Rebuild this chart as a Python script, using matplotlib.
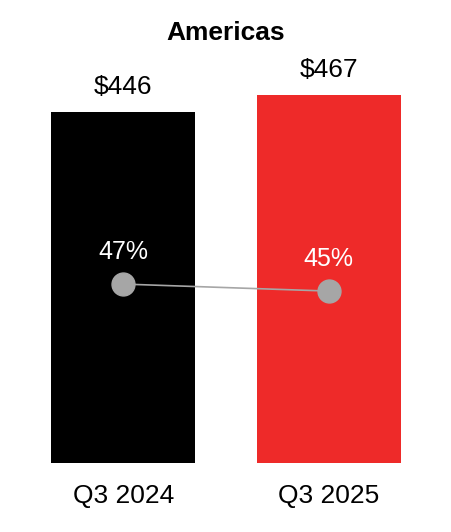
import matplotlib
matplotlib.use("Agg")
import matplotlib.pyplot as plt

categories = ["Q3 2024", "Q3 2025"]
revenue = [446, 467]
margin = [47, 45]
value_labels = ["$446", "$467"]
margin_labels = ["47%", "45%"]

plt.rcParams['font.family'] = ['Liberation Sans', 'DejaVu Sans']

fig = plt.figure(figsize=(4.52, 5.32), dpi=100)
ax = fig.add_axes([0, 69/532, 1, 403/532])
x = list(range(len(categories)))
ax.bar(x, revenue, width=0.7, color=["#000000", "#ee2a29"])
ax.set_xlim(-0.6, 1.6)
ax.set_ylim(0, 403/0.788)
ax.axis('off')

for xi, v, lab in zip(x, revenue, value_labels):
    ax.annotate(lab, (xi, v), xytext=(0, 18), textcoords="offset points",
                ha="center", va="center", fontsize=19)
for xi, lab in zip(x, categories):
    ax.annotate(lab, (xi, 0), xytext=(0, -24), textcoords="offset points",
                ha="center", va="center", fontsize=19)

ax2 = ax.twinx()
ax2.set_ylim(-4.1, 111)
ax2.plot(x, margin, color="#a6a6a6", lw=1.2, marker="o", markersize=16.5,
         markerfacecolor="#a6a6a6", markeredgecolor="#a6a6a6")
for xi, m, lab in zip(x, margin, margin_labels):
    ax2.annotate(lab, (xi, m), xytext=(0, 23), textcoords="offset points",
                 ha="center", va="center", fontsize=18, color="white")
ax2.axis('off')

fig.text(0.5, 1 - 33/532, "Americas", ha="center", va="center",
         fontsize=19, fontweight="bold")

fig.savefig("out.png", dpi=100)
